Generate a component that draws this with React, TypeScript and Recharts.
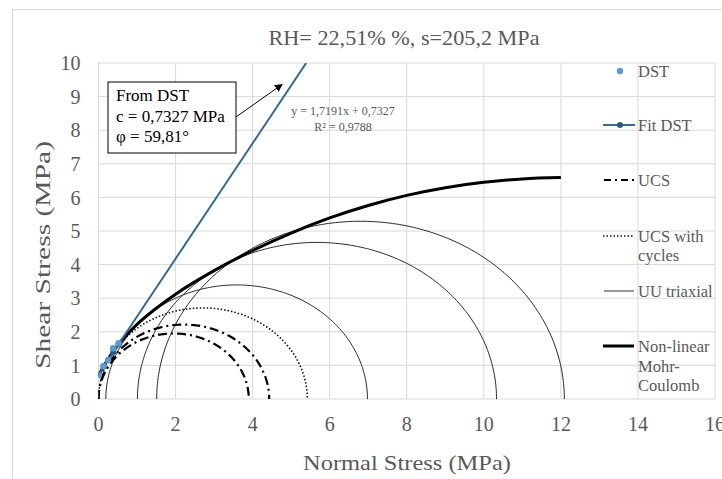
import React from 'react';
import { ComposedChart, Line, XAxis, YAxis, CartesianGrid } from 'recharts';

const FONT = '"Liberation Serif", "Times New Roman", serif';
const GRAY = '#595959';

// Axis ticks
const xTicks = [0, 2, 4, 6, 8, 10, 12, 14, 16];
const yTicks = [0, 1, 2, 3, 4, 5, 6, 7, 8, 9, 10];

// DST measured points
const dstX = [0, 0.13, 0.25, 0.38, 0.52];
const dstY = [0.71, 0.98, 1.16, 1.51, 1.66];

// Fit DST (y = 1,7191x + 0,7327)
const fitX = [0, 0.13, 0.25, 0.38, 0.52, 5.39];
const fitY = [0.73, 0.96, 1.16, 1.39, 1.63, 10.0];

// Mohr circles: [sigma3, sigma1]
const ucsCircles: [number, number][] = [[0, 3.9], [0, 4.43]];
const ucsCycleCircles: [number, number][] = [[0, 5.42]];
const uuCircles: [number, number][] = [[0.19, 6.98], [1.01, 10.33], [1.51, 12.09]];

// Non-linear Mohr-Coulomb envelope
const envX = [0, 0.2, 0.5, 1, 1.5, 2, 3, 4, 5, 6, 7, 8, 9, 10, 11, 12];
const envY = [0.71, 1.1, 1.6, 2.22, 2.7, 3.12, 3.82, 4.42, 4.94, 5.39, 5.76, 6.06, 6.29, 6.45, 6.55, 6.59];

const zip = (xs: number[], ys: number[]) => xs.map((x, i) => ({ x, y: ys[i] }));

// semicircle geometry of a Mohr circle
const semicircle = ([s3, s1]: [number, number]) => {
  const c = (s1 + s3) / 2;
  const r = (s1 - s3) / 2;
  const pts: { x: number; y: number }[] = [];
  const n = 180;
  for (let i = 0; i <= n; i++) {
    const t = Math.PI - (Math.PI * i) / n;
    pts.push({ x: c + r * Math.cos(t), y: r * Math.sin(t) });
  }
  return pts;
};

const dstData = zip(dstX, dstY);
const fitData = zip(fitX, fitY);
const envData = zip(envX, envY);

const BLUE_LIGHT = '#5B9BD5';
const BLUE_LINE = '#31699E';
const BLUE_DARK = '#2B5A8A';
const UCS_DASH = '9 4 2 4';
const DOT_DASH = '1.5 2';

export default function App() {
  const tickStyle = { fill: GRAY, fontSize: 20, fontFamily: FONT };
  return (
    <div style={{ position: 'absolute', left: 0, top: 0, width: 722, height: 479, background: '#fff' }}>
      <ComposedChart width={722} height={479} margin={{ top: 63, right: 7, bottom: 0, left: 0 }}>
        <CartesianGrid stroke="#d9d9d9" strokeWidth={1} />
        <XAxis
          type="number"
          dataKey="x"
          domain={[0, 16]}
          ticks={xTicks}
          interval={0}
          allowDataOverflow
          height={80}
          tickSize={0}
          tickMargin={18}
          axisLine={false}
          tickLine={false}
          tick={tickStyle}
        />
        <YAxis
          type="number"
          dataKey="y"
          domain={[0, 10]}
          ticks={yTicks}
          interval={0}
          allowDataOverflow
          width={98.5}
          tickSize={0}
          tickMargin={18}
          axisLine={false}
          tickLine={false}
          tick={tickStyle}
        />
        {uuCircles.map((c, i) => (
          <Line key={`uu${i}`} data={semicircle(c)} dataKey="y" type="linear" stroke="#2a2a2a" strokeWidth={1} dot={false} isAnimationActive={false} />
        ))}
        {ucsCycleCircles.map((c, i) => (
          <Line key={`uc${i}`} data={semicircle(c)} dataKey="y" type="linear" stroke="#111" strokeWidth={1.6} strokeDasharray={DOT_DASH} dot={false} isAnimationActive={false} />
        ))}
        {ucsCircles.map((c, i) => (
          <Line key={`ucs${i}`} data={semicircle(c)} dataKey="y" type="linear" stroke="#000" strokeWidth={2.2} strokeDasharray={UCS_DASH} dot={false} isAnimationActive={false} />
        ))}
        <Line data={envData} dataKey="y" type="monotone" stroke="#000" strokeWidth={3} dot={false} isAnimationActive={false} />
        <Line
          data={fitData}
          dataKey="y"
          type="linear"
          stroke={BLUE_LINE}
          strokeWidth={2}
          isAnimationActive={false}
          dot={(p: any) =>
            p.index === fitX.length - 1 ? (
              <g key={`fd${p.index}`} />
            ) : (
              <circle key={`fd${p.index}`} cx={p.cx} cy={p.cy} r={3} fill={BLUE_DARK} stroke="none" />
            )
          }
        />
        <Line
          data={dstData}
          dataKey="y"
          type="linear"
          stroke="none"
          isAnimationActive={false}
          dot={(p: any) => <circle key={`d${p.index}`} cx={p.cx} cy={p.cy} r={3.2} fill={BLUE_LIGHT} stroke="none" />}
        />
      </ComposedChart>
      <svg width={722} height={479} style={{ position: 'absolute', left: 0, top: 0, pointerEvents: 'none' }} fontFamily={FONT}>
        <rect x={12.5} y={9.5} width={800} height={600} fill="none" stroke="#d9d9d9" />
        <text x={404} y={38} textAnchor="middle" dominantBaseline="central" fontSize={21.5} fill={GRAY} textLength={271} lengthAdjust="spacingAndGlyphs">
          RH= 22,51% %, s=205,2 MPa
        </text>
        <text x={407} y={462} textAnchor="middle" dominantBaseline="central" fontSize={22} fill={GRAY} textLength={208} lengthAdjust="spacingAndGlyphs">
          Normal Stress (MPa)
        </text>
        <text transform="translate(42,255) rotate(-90)" textAnchor="middle" dominantBaseline="central" fontSize={22} fill={GRAY} textLength={228} lengthAdjust="spacingAndGlyphs">
          Shear Stress (MPa)
        </text>
        {/* annotation box */}
        <rect x={108} y={82} width={128} height={71} fill="#fff" stroke="#000" strokeWidth={1} />
        <text x={116} y={95} dominantBaseline="central" fontSize={17} fill="#000">From DST</text>
        <text x={116} y={116} dominantBaseline="central" fontSize={17} fill="#000">c = 0,7327 MPa</text>
        <text x={116} y={136} dominantBaseline="central" fontSize={17} fill="#000">φ = 59,81°</text>
        <defs>
          <marker id="arr" markerWidth="8" markerHeight="8" refX="7" refY="4" orient="auto" markerUnits="userSpaceOnUse">
            <path d="M0,0 L8,4 L0,8 Z" fill="#000" />
          </marker>
        </defs>
        <line x1={236} y1={117} x2={282} y2={84.5} stroke="#000" strokeWidth={1} markerEnd="url(#arr)" />
        {/* trendline equation */}
        <text x={343} y={111} textAnchor="middle" dominantBaseline="central" fontSize={12} fill={GRAY}>y = 1,7191x + 0,7327</text>
        <text x={343} y={127} textAnchor="middle" dominantBaseline="central" fontSize={12} fill={GRAY}>R² = 0,9788</text>
        {/* legend */}
        <g fontSize={16.5} fill={GRAY}>
          <circle cx={620} cy={71} r={3.2} fill={BLUE_LIGHT} />
          <text x={638} y={71} dominantBaseline="central">DST</text>
          <line x1={603} y1={125} x2={635} y2={125} stroke={BLUE_LINE} strokeWidth={2} />
          <circle cx={620} cy={125} r={3} fill={BLUE_DARK} />
          <text x={638} y={125} dominantBaseline="central">Fit DST</text>
          <line x1={604} y1={180} x2={634} y2={180} stroke="#000" strokeWidth={2.2} strokeDasharray="7 4 2 4" />
          <text x={638} y={180} dominantBaseline="central">UCS</text>
          <line x1={603} y1={236} x2={634} y2={236} stroke="#111" strokeWidth={1.6} strokeDasharray={DOT_DASH} />
          <text x={638} y={236} dominantBaseline="central">UCS with</text>
          <text x={638} y={255} dominantBaseline="central">cycles</text>
          <line x1={604} y1={291} x2={634} y2={291} stroke="#555" strokeWidth={1.2} />
          <text x={638} y={291} dominantBaseline="central">UU triaxial</text>
          <line x1={603} y1={346} x2={634} y2={346} stroke="#000" strokeWidth={3} />
          <text x={638} y={346} dominantBaseline="central">Non-linear</text>
          <text x={638} y={366} dominantBaseline="central">Mohr-</text>
          <text x={638} y={385} dominantBaseline="central">Coulomb</text>
        </g>
      </svg>
    </div>
  );
}
